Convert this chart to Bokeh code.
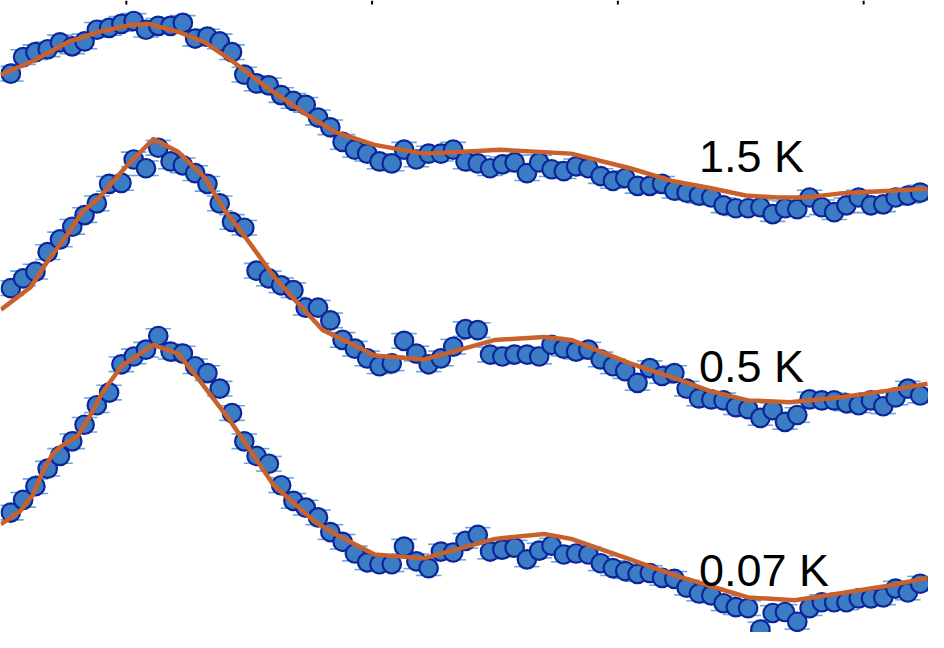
from bokeh.plotting import figure
from bokeh.models import Range1d
from bokeh.core.properties import value
from bokeh.embed import file_html
from bokeh.resources import INLINE

# Energy grid of the measured points
energy = [0.53, 0.58, 0.63, 0.68, 0.73, 0.78, 0.83, 0.88, 0.93, 0.98,
          1.03, 1.08, 1.13, 1.18, 1.23, 1.28, 1.33, 1.38, 1.43, 1.48,
          1.53, 1.58, 1.63, 1.68, 1.73, 1.78, 1.83, 1.88, 1.93, 1.98,
          2.03, 2.08, 2.13, 2.18, 2.23, 2.28, 2.33, 2.38, 2.43, 2.48,
          2.53, 2.58, 2.63, 2.68, 2.73, 2.78, 2.83, 2.88, 2.93, 2.98,
          3.03, 3.08, 3.13, 3.18, 3.23, 3.28, 3.33, 3.38, 3.43, 3.48,
          3.53, 3.58, 3.63, 3.68, 3.73, 3.78, 3.83, 3.88, 3.93, 3.98,
          4.03, 4.08, 4.13, 4.18, 4.23]

# Measured intensities (curves offset vertically)
int_1p5K = [5.73, 5.90, 5.95, 5.98, 6.05, 6.01, 6.06, 6.18, 6.20, 6.24,
            6.27, 6.18, 6.22, 6.22, 6.25, 6.09, 6.11, 6.06, 5.95, 5.72,
            5.63, 5.61, 5.51, 5.45, 5.41, 5.28, 5.18, 5.03, 4.95, 4.91,
            4.83, 4.81, 4.95, 4.85, 4.91, 4.91, 4.95, 4.83, 4.81, 4.76,
            4.80, 4.82, 4.71, 4.82, 4.75, 4.73, 4.78, 4.76, 4.68, 4.63,
            4.66, 4.58, 4.58, 4.60, 4.53, 4.51, 4.48, 4.46, 4.38, 4.35,
            4.35, 4.36, 4.29, 4.35, 4.34, 4.46, 4.36, 4.31, 4.38, 4.46,
            4.38, 4.39, 4.46, 4.48, 4.51]
int_0p5K = [3.53, 3.63, 3.70, 3.90, 4.03, 4.16, 4.28, 4.40, 4.60, 4.61,
            4.85, 4.76, 4.97, 4.83, 4.79, 4.71, 4.60, 4.40, 4.21, 4.15,
            3.71, 3.63, 3.56, 3.51, 3.33, 3.33, 3.20, 3.00, 2.91, 2.81,
            2.73, 2.76, 2.99, 2.86, 2.75, 2.81, 2.93, 3.11, 3.10, 2.85,
            2.83, 2.85, 2.85, 2.83, 2.95, 2.91, 2.88, 2.90, 2.80, 2.73,
            2.68, 2.56, 2.71, 2.63, 2.66, 2.50, 2.40, 2.39, 2.38, 2.31,
            2.29, 2.20, 2.28, 2.16, 2.23, 2.39, 2.38, 2.38, 2.35, 2.33,
            2.38, 2.32, 2.41, 2.50, 2.43]
int_0p07K = [1.23, 1.36, 1.50, 1.68, 1.81, 1.96, 2.13, 2.33, 2.46, 2.75,
             2.83, 2.90, 3.04, 2.88, 2.86, 2.73, 2.66, 2.50, 2.25, 1.96,
             1.81, 1.73, 1.51, 1.35, 1.28, 1.18, 1.03, 0.93, 0.81, 0.72,
             0.70, 0.70, 0.88, 0.73, 0.66, 0.83, 0.82, 0.94, 1.00, 0.83,
             0.85, 0.87, 0.75, 0.84, 0.89, 0.80, 0.81, 0.80, 0.71, 0.66,
             0.63, 0.60, 0.61, 0.56, 0.55, 0.46, 0.40, 0.38, 0.30, 0.26,
             0.25, 0.03, 0.20, 0.21, 0.11, 0.25, 0.31, 0.31, 0.31, 0.35,
             0.35, 0.36, 0.45, 0.41, 0.50]
error = 0.075

# Fit curves
fit_1p5K_x = [0.49, 0.62, 0.76, 0.89, 1.02, 1.09, 1.21, 1.32, 1.42, 1.56,
              1.74, 1.85, 2.01, 2.21, 2.37, 2.52, 2.81, 3.05, 3.22, 3.37,
              3.52, 3.65, 3.76, 3.90, 4.26]
fit_1p5K_y = [5.72, 5.86, 6.05, 6.16, 6.23, 6.24, 6.16, 6.05, 5.88, 5.61,
              5.30, 5.13, 5.00, 4.91, 4.93, 4.95, 4.91, 4.76, 4.63, 4.56,
              4.48, 4.46, 4.46, 4.50, 4.55]
fit_0p5K_x = [0.49, 0.61, 0.68, 0.76, 0.82, 0.89, 1.00, 1.11, 1.21, 1.32,
              1.40, 1.50, 1.60, 1.69, 1.80, 1.90, 2.01, 2.21, 2.33, 2.50,
              2.70, 2.81, 3.05, 3.24, 3.37, 3.53, 3.70, 3.90, 4.10, 4.26]
fit_0p5K_y = [3.31, 3.54, 3.81, 4.08, 4.31, 4.46, 4.78, 5.06, 4.93, 4.66,
              4.33, 4.00, 3.65, 3.40, 3.10, 2.98, 2.84, 2.80, 2.88, 3.00,
              3.03, 3.00, 2.76, 2.60, 2.48, 2.38, 2.36, 2.41, 2.48, 2.55]
fit_0p07K_x = [0.49, 0.57, 0.62, 0.66, 0.70, 0.73, 0.80, 0.85, 0.90, 0.98,
               1.11, 1.21, 1.29, 1.42, 1.60, 1.77, 1.85, 2.01, 2.21, 2.50,
               2.70, 2.81, 3.05, 3.24, 3.37, 3.53, 3.72, 3.90, 4.10, 4.26]
fit_0p07K_y = [1.11, 1.25, 1.41, 1.65, 1.83, 1.90, 2.01, 2.21, 2.45, 2.73,
               2.95, 2.86, 2.61, 2.18, 1.51, 1.13, 1.01, 0.80, 0.76, 0.96,
               1.01, 0.96, 0.75, 0.58, 0.48, 0.36, 0.33, 0.40, 0.48, 0.56]

labels = ["1.5 K", "0.5 K", "0.07 K"]
label_x = [3.33, 3.33, 3.33]
label_y = [4.88, 2.73, 0.64]

top_ticks = [1.0, 2.0, 3.0, 4.0]

X0, X1 = 0.488, 4.264
Y0, Y1 = 0.0, 6.48

p = figure(width=928, height=632, output_backend="svg", toolbar_location=None,
           x_range=Range1d(X0, X1), y_range=Range1d(Y0, Y1),
           min_border=0, x_axis_type=None, y_axis_type=None)
p.grid.visible = False
p.outline_line_color = None
p.background_fill_color = "white"
p.border_fill_color = "white"

cap_half = 0.052
fill_c = "#3b7cc4"
edge_c = "#0c259a"
cap_c = "#6aa6dc"
fit_c = "#c8612c"

series = [(int_1p5K, fit_1p5K_x, fit_1p5K_y),
          (int_0p5K, fit_0p5K_x, fit_0p5K_y),
          (int_0p07K, fit_0p07K_x, fit_0p07K_y)]

for ys, fx, fy in series:
    x0 = [e - cap_half for e in energy]
    x1 = [e + cap_half for e in energy]
    up = [y + error for y in ys]
    dn = [y - error for y in ys]
    p.segment(x0=x0, x1=x1, y0=up, y1=up, line_color=cap_c, line_width=1.6)
    p.segment(x0=x0, x1=x1, y0=dn, y1=dn, line_color=cap_c, line_width=1.6)

for ys, fx, fy in series:
    p.scatter(x=energy, y=ys, size=18.5, marker="circle", fill_color=fill_c,
              line_color=edge_c, line_width=2.2)

for ys, fx, fy in series:
    p.line(x=fx, y=fy, line_color=fit_c, line_width=4.5, line_join="round")

p.text(x=label_x, y=label_y, text=labels, text_font=value("Liberation Sans"),
       text_font_size="45px", text_baseline="alphabetic", text_align="left",
       text_color="black")

# short tick marks from the axis above
p.segment(x0=top_ticks, x1=top_ticks, y0=[Y1] * 4, y1=[Y1 - 0.04] * 4,
          line_color="black", line_width=2)

open("out.html", "w").write(file_html(p, INLINE))
